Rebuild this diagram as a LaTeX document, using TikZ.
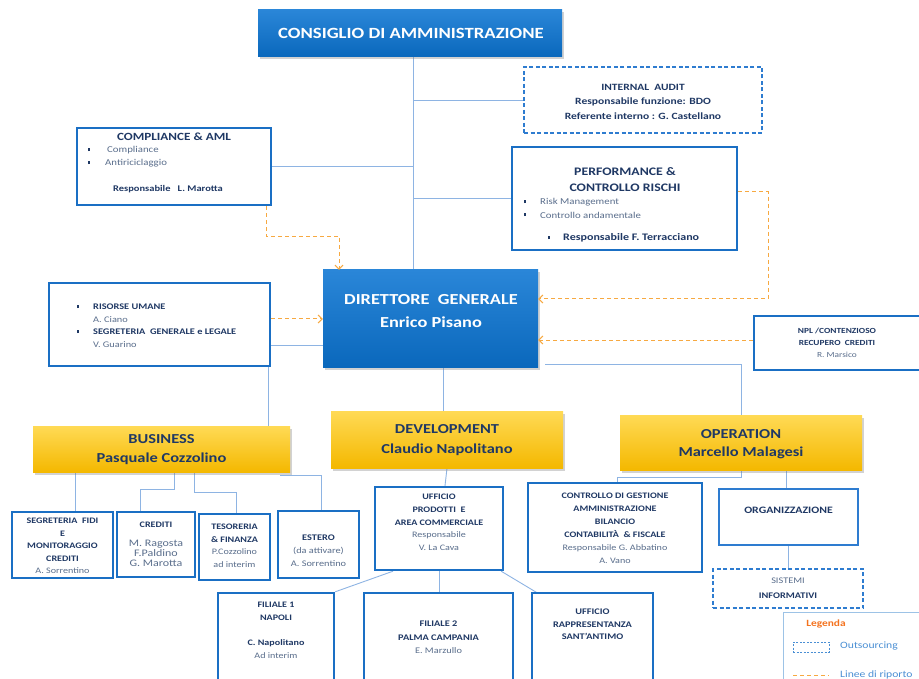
\documentclass[tikz,border=0pt]{standalone}
\usepackage{fontspec}
\setmainfont[FakeStretch=1.2]{Carlito}
\usetikzlibrary{arrows.meta,shadows,calc}
\definecolor{bordc}{HTML}{1A6FC4}
\definecolor{navy}{HTML}{1F3864}
\definecolor{nm}{HTML}{5A6E8C}
\definecolor{linec}{HTML}{8EB4E3}
\definecolor{orc}{HTML}{F7A941}
\definecolor{dashc}{HTML}{2E7CD0}
\definecolor{btop}{HTML}{2A86D8}
\definecolor{bbot}{HTML}{0A68BC}
\definecolor{gtop}{HTML}{FFDA55}
\definecolor{gbot}{HTML}{F4B800}
\definecolor{legc}{HTML}{9DC3E6}
\definecolor{legt}{HTML}{4A8FD4}
\definecolor{legor}{HTML}{F4731F}
\newcommand{\ft}[2]{\fontsize{#1}{#2}\selectfont}
\newcommand{\sqb}{\rule[0.5pt]{2.6pt}{2.6pt}}
\pgfdeclarelayer{bg}
\pgfsetlayers{bg,main}
\tikzset{
  wbox/.style={draw=bordc, line width=2.4pt, fill=white, inner sep=0pt},
  obox/.style={draw=dashc, line width=1.5pt, fill=white, inner sep=0pt},
  dbox/.style={draw=dashc, line width=1.3pt, dash pattern=on 4pt off 2.5pt, fill=white, inner sep=0pt},
  bluebox/.style={top color=btop, bottom color=bbot, draw=none, inner sep=0pt,
     drop shadow={shadow xshift=1.5pt, shadow yshift=-2.5pt, opacity=0.35}},
  goldbox/.style={top color=gtop, bottom color=gbot, draw=none, inner sep=0pt,
     drop shadow={shadow xshift=1.5pt, shadow yshift=-2.5pt, opacity=0.35}},
  txt/.style={inner sep=0pt, align=center, text=navy},
  ltxt/.style={inner sep=0pt, anchor=west, text=navy},
  conn/.style={draw=linec, line width=0.9pt},
  rep/.style={draw=orc, line width=1pt, dash pattern=on 4pt off 3pt, -{Straight Barb[length=4pt,width=8pt]}},
}
\begin{document}
\begin{tikzpicture}[x=1pt,y=-1pt]
\useasboundingbox (0,0) rectangle (919,679);
\clip (0,0) rectangle (919,679);
\begin{pgfonlayer}{bg}
\fill[white] (0,0) rectangle (919,679);
\end{pgfonlayer}

% ---------- boxes ----------
\node[bluebox, minimum width=304pt, minimum height=47pt] (cda) at (410,33.5) {};
\node[txt, text=white, font=\ft{15.6}{20}\bfseries] (cdaT) at (411,33.5) {CONSIGLIO DI AMMINISTRAZIONE};

\node[dbox, minimum width=238pt, minimum height=66pt] (audit) at (643,100) {};
\node[txt, font=\ft{9.6}{14.5}\bfseries] (auditT) at (643,101.5) {INTERNAL\ \ AUDIT\\Responsabile funzione: BDO\\Referente interno : G. Castellano};

\node[wbox, minimum width=194pt, minimum height=77pt] (comp) at (174,166.5) {};
\node[txt, font=\ft{11}{13}\bfseries] (compT) at (174,137) {COMPLIANCE \& AML};
\node[txt, font=\ft{8}{9}] (compB1) at (89,150) {\sqb};
\node[txt, font=\ft{8}{9}] (compB2) at (89,163) {\sqb};
\node[ltxt, text=nm, font=\ft{9}{9}] (compL1) at (107,150) {Compliance};
\node[ltxt, text=nm, font=\ft{9}{9}] (compL2) at (105,163) {Antiriciclaggio};
\node[txt, font=\ft{8.7}{9}\bfseries] (compR) at (168,189) {Responsabile\ \ \ L. Marotta};

\node[wbox, minimum width=225pt, minimum height=103pt] (perf) at (624.5,198.5) {};
\node[txt, font=\ft{11.5}{16}\bfseries] (perfT) at (625,180) {PERFORMANCE \&\\CONTROLLO RISCHI};
\node[txt, font=\ft{8}{9}] (perfB1) at (525,202) {\sqb};
\node[txt, font=\ft{8}{9}] (perfB2) at (525,215) {\sqb};
\node[ltxt, text=nm, font=\ft{9}{9}] (perfL1) at (540,202) {Risk Management};
\node[ltxt, text=nm, font=\ft{9}{9}] (perfL2) at (540,215) {Controllo andamentale};
\node[txt, font=\ft{8}{9}] (perfB3) at (549,238) {\sqb};
\node[ltxt, font=\ft{10}{10}\bfseries] (perfR) at (563,238) {Responsabile F. Terracciano};

\node[bluebox, minimum width=215pt, minimum height=97pt] (dg) at (430.5,318.5) {};
\node[txt, text=white, font=\ft{15.3}{23}\bfseries] (dgT) at (431,311.5) {DIRETTORE\ \ GENERALE\\Enrico Pisano};

\node[wbox, minimum width=221pt, minimum height=83pt] (ris) at (159.5,324.5) {};
\node[txt, font=\ft{8}{9}] (risB1) at (78,307) {\sqb};
\node[txt, font=\ft{8}{9}] (risB2) at (78,332) {\sqb};
\node[ltxt, font=\ft{8.6}{9}\bfseries] (risL1) at (93,307) {RISORSE UMANE};
\node[ltxt, text=nm, font=\ft{8.6}{9}] (risL2) at (93,320) {A. Ciano};
\node[ltxt, font=\ft{8.6}{9}\bfseries] (risL3) at (93,332) {SEGRETERIA\ \ GENERALE e LEGALE};
\node[ltxt, text=nm, font=\ft{8.6}{9}] (risL4) at (93,345) {V. Guarino};

\node[wbox, minimum width=171pt, minimum height=54pt] (npl) at (839.5,343) {};
\node[txt, font=\ft{7.8}{12}] (nplT) at (837,343) {\textbf{NPL /CONTENZIOSO}\\\textbf{RECUPERO\ \ CREDITI}\\\textcolor{nm}{R. Marsico}};

\node[goldbox, minimum width=257pt, minimum height=46pt] (bus) at (161.5,449) {};
\node[txt, font=\ft{13.7}{19}\bfseries] (busT) at (161.5,449.5) {BUSINESS\\Pasquale Cozzolino};
\node[goldbox, minimum width=232pt, minimum height=57pt] (dev) at (447,439.5) {};
\node[txt, font=\ft{13.7}{20}\bfseries] (devT) at (447,440) {DEVELOPMENT\\Claudio Napolitano};
\node[goldbox, minimum width=242pt, minimum height=55pt] (op) at (741,442.5) {};
\node[txt, font=\ft{13.7}{18}\bfseries] (opT) at (741,444) {OPERATION\\Marcello Malagesi};

% business sub
\node[wbox, minimum width=101pt, minimum height=66pt] (seg) at (62.5,545) {};
\node[txt, font=\ft{8.4}{12.5}] (segT) at (62.5,546) {\textbf{SEGRETERIA\ \ FIDI}\\\textbf{E}\\\textbf{MONITORAGGIO}\\\textbf{CREDITI}\\\textcolor{nm}{A. Sorrentino}};
\node[wbox, minimum width=78pt, minimum height=65pt] (cred) at (156,544.5) {};
\node[txt, font=\ft{8.4}{10}] (credT) at (156,525) {\textbf{CREDITI}};
\node[txt, text=nm, font=\ft{10}{10}] (credN) at (156,553) {M. Ragosta\\F.Paldino\\G. Marotta};
\node[wbox, minimum width=71pt, minimum height=66pt] (tes) at (234.5,547) {};
\node[txt, font=\ft{8.4}{12.5}] (tesT) at (234.5,546) {\textbf{TESORERIA}\\\textbf{\& FINANZA}\\\textcolor{nm}{P.Cozzolino}\\\textcolor{nm}{ad interim}};
\node[wbox, minimum width=81pt, minimum height=67pt] (est) at (318.5,544.5) {};
\node[txt, font=\ft{8.6}{13}] (estT) at (318.5,551) {\textbf{ESTERO}\\\textcolor{nm}{(da attivare)}\\\textcolor{nm}{A. Sorrentino}};

% development sub
\node[wbox, minimum width=128pt, minimum height=83pt] (upa) at (439,528.5) {};
\node[txt, font=\ft{8.4}{12.7}] (upaT) at (439,522.5) {\textbf{UFFICIO}\\\textbf{PRODOTTI\ \ E}\\\textbf{AREA COMMERCIALE}\\\textcolor{nm}{Responsabile}\\\textcolor{nm}{V. La Cava}};
\node[wbox, minimum width=116pt, minimum height=110pt] (fil1) at (276,648) {};
\node[txt, font=\ft{8.4}{12.7}] (fil1T) at (276,630.5) {\textbf{FILIALE 1}\\\textbf{NAPOLI}\\[12.7pt]\textbf{C. Napolitano}\\\textcolor{nm}{Ad interim}};
\node[wbox, minimum width=149pt, minimum height=110pt] (fil2) at (438.5,648) {};
\node[txt, font=\ft{8.6}{13.5}] (fil2T) at (438.5,637.5) {\textbf{FILIALE 2}\\\textbf{PALMA CAMPANIA}\\\textcolor{nm}{E. Marzullo}};
\node[wbox, minimum width=121pt, minimum height=110pt] (rap) at (592.5,648) {};
\node[txt, font=\ft{8.6}{12.5}] (rapT) at (592.5,624.5) {\textbf{UFFICIO}\\\textbf{RAPPRESENTANZA}\\\textbf{SANT'ANTIMO}};

% operation sub
\node[wbox, minimum width=174pt, minimum height=89pt] (ctl) at (615,527.5) {};
\node[txt, font=\ft{8.4}{13}] (ctlT) at (615,528) {\textbf{CONTROLLO DI GESTIONE}\\\textbf{AMMINISTRAZIONE}\\\textbf{BILANCIO}\\\textbf{CONTABILITÀ\ \ \& FISCALE}\\\textcolor{nm}{Responsabile G. Abbatino}\\\textcolor{nm}{A. Vano}};
\node[obox, minimum width=139pt, minimum height=56pt] (org) at (788.5,517) {};
\node[txt, font=\ft{9.8}{10}\bfseries] (orgT) at (788.5,510) {ORGANIZZAZIONE};
\node[dbox, minimum width=150pt, minimum height=39pt] (sis) at (788,588.5) {};
\node[txt, font=\ft{8.6}{15}] (sisT) at (788,588.5) {\textcolor{nm}{SISTEMI}\\\textbf{INFORMATIVI}};

% legend
\node[draw=legc, line width=1pt, fill=white, minimum width=150pt, minimum height=90pt, anchor=north west, inner sep=0pt] (leg) at (783,612) {};
\node[txt, text=legor, font=\ft{9.5}{10}\bfseries] (legT) at (826,624) {Legenda};
\node[draw=legt, line width=0.9pt, dash pattern=on 2pt off 1.5pt, minimum width=36pt, minimum height=10pt, inner sep=0pt] (legD) at (811,647) {};
\node[ltxt, text=legt, font=\ft{9.7}{10}] (legO) at (840,646) {Outsourcing};
\coordinate (legA) at (793,675);
\coordinate (legB) at (829,675);
\draw[draw=orc, line width=1pt, dash pattern=on 4pt off 3pt] (legA) -- (legB);
\node[ltxt, text=legt, font=\ft{9.7}{10}] (legL) at (840,675) {Linee di riporto};

% ---------- connectors ----------
\coordinate (spine) at ([xshift=3pt]cda.south);
\begin{pgfonlayer}{bg}
\draw[conn] (spine) -- (spine |- dg.north);
\draw[conn] (audit.west) -- (audit.west -| spine);
\draw[conn] (comp.east) -- (comp.east -| spine);
\draw[conn] (perf.west) -- (perf.west -| spine);

\draw[conn] ([yshift=-26.5pt]dg.west) -| ([xshift=106.5pt]bus.north);
\draw[conn] ([xshift=12.5pt]dg.south) -- ([xshift=12.5pt]dg.south |- dev.north);
\draw[conn] ([shift={(7pt,3pt)}]dg.south east) -| (op.north);

\draw[conn] ([xshift=12.5pt]seg.north |- bus.south) -- ([xshift=12.5pt]seg.north);
\draw[conn] ([xshift=12.5pt]bus.south) -- ++(0,17) -| ([xshift=-16pt]cred.north);
\draw[conn] ([xshift=32.5pt]bus.south) -- ++(0,20) -| ([xshift=1.5pt]tes.north);
\draw[conn] ([shift={(-10pt,-3pt)}]bus.south east) -| ([xshift=2.5pt]est.north);

\draw[conn] (dev.south) -- ([xshift=6pt]upa.north);
\draw[conn] ([xshift=-46pt]upa.south) -- (fil1.north east);
\draw[conn] (upa.south) -- (upa.south |- fil2.north);
\draw[conn] ([xshift=-3pt]upa.south east) -- ([shift={(8pt,-2pt)}]rap.north west);

\draw[conn] (op.south) -- ++(0,7) -| ([xshift=2pt]ctl.north);
\draw[conn] ([xshift=45pt]op.south) -- ([xshift=45pt]op.south |- org.north);
\draw[conn] (org.south) -- (org.south |- sis.north);
\end{pgfonlayer}

\draw[rep] ([xshift=-6pt]comp.south east) -- ++(0,30) -| ([xshift=-91.5pt]dg.north);
\draw[rep] ([yshift=6.5pt]perf.east) -- ++(30,0) |- ([yshift=19.5pt]dg.east);
\draw[rep] ([yshift=3pt]npl.west) -- ([yshift=3pt]npl.west -| dg.east);
\draw[rep] ([yshift=5.5pt]ris.east) -- ([yshift=5.5pt]ris.east -| dg.west);
\end{tikzpicture}
\end{document}
